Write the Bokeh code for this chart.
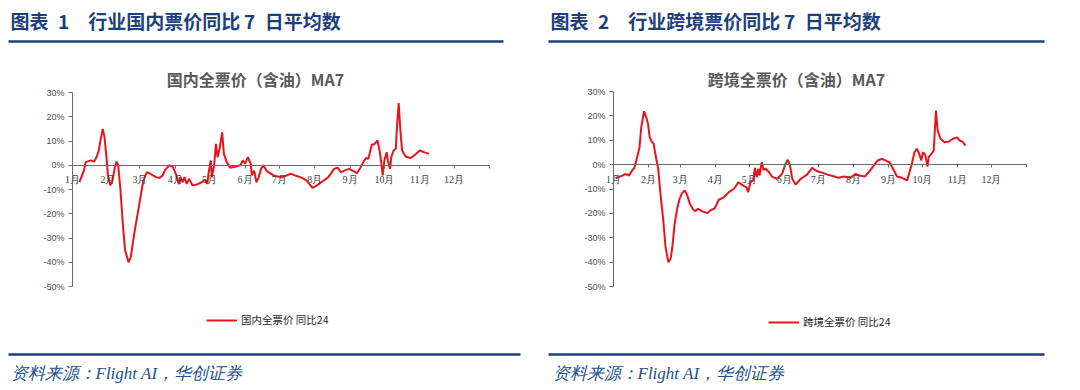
from bokeh.plotting import figure
from bokeh.models import (Range1d, FixedTicker, PrintfTickFormatter,
                          Legend, LegendItem)
from bokeh.layouts import row
from bokeh.embed import file_html
from bokeh.resources import INLINE
from bokeh.core.properties import value

# ---------------- data ----------------
MONTH_LABELS = ["1月", "2月", "3月", "4月", "5月", "6月",
                "7月", "8月", "9月", "10月", "11月", "12月"]
MONTH_START_DAYS = [0, 31, 59, 90, 120, 151, 181, 212, 243, 273, 304, 334]
YEAR_END_DAY = 365
Y_TICKS = [-50, -40, -30, -20, -10, 0, 10, 20, 30]

# 国内全票价 同比24 (MA7, %), x = day of year
DOM_DAY = [6, 10, 11.5, 16, 19, 21, 23, 24.5, 26.5, 28,
           30, 31, 33, 35, 37, 38.5, 40, 42, 44, 46,
           49, 51, 54, 58, 62, 65, 68, 73, 76, 79,
           81, 85, 88, 91, 93, 94.5, 96.5, 98, 100, 102,
           105, 109, 113, 116, 118, 119, 121, 122, 124, 125.5,
           127, 129, 131, 132.5, 135, 138, 143, 147, 149, 151,
           153.5, 156, 157, 159, 161, 163, 165, 167, 170, 176,
           182, 186, 191, 195, 201, 205, 210, 214, 219, 224,
           229, 232, 235, 238, 242, 246, 249, 252, 255, 257,
           259, 262, 264, 267, 269, 270, 271.5, 273, 275, 276,
           278, 279, 281, 283, 284, 285.5, 287, 288.5, 291.5, 296,
           299, 304, 307.5, 312]
DOM_YOY = [-7, -2.2, 1.3, 2, 1.5, 3.3, 6, 10.2, 15, 11.6,
           2, -4.2, -8.3, -6.3, -1, 1.5, 0, -10.4, -24, -35,
           -40, -37.9, -28.3, -17.3, -6.3, -2.9, -3.5, -4.9, -5.2, -4.2,
           -1.9, 0, -0.8, -4.2, -7.7, -4.9, -7, -4.9, -7.7, -5.6,
           -8.3, -7.9, -7, -6, -7.7, -3.5, 2, -4.9, 0, 8.8,
           3.3, 7.4, 13.6, 4.7, 1.3, -1, -0.5, 0, 2, 0.6,
           3.3, 0.6, -4.2, -2.2, -7, -4.9, -1.5, 0, -2.4, -4.2,
           -4.9, -4.5, -3.5, -4.2, -5.2, -6.3, -9.3, -8.3, -6.6, -4.9,
           -1.5, -1, -2.9, -2.2, -1.5, -2.4, -3.3, -1, 1.7, 3,
           2.7, 8.6, 8.6, 10.2, 5.4, 2, -4.2, 2, 5.4, 2,
           -1.5, 3.3, 6.1, 6.8, 15.7, 25.6, 14.3, 6.1, 3.6, 3,
           4, 6.1, 5.4, 4.7]

# 跨境全票价 同比24 (MA7, %)
CRS_DAY = [2, 8, 10.5, 13.5, 16.5, 18.5, 20.5, 23, 24.5, 27,
           29, 30.5, 32, 33.5, 35.5, 37.5, 39.5, 41.5, 44, 46,
           48.5, 50.5, 52, 54, 56.5, 58.5, 60.5, 63, 65, 67.5,
           70.5, 72.5, 74.5, 78.5, 83, 85.5, 89.5, 93, 97.5, 102,
           106.5, 110.5, 114.5, 117.5, 119, 121, 123.5, 125, 126.5, 128,
           129, 131, 132.5, 134.5, 137.5, 140, 144.5, 149, 152, 154,
           156, 158, 161, 165.5, 171, 175.5, 178.5, 183, 189, 194.5,
           199, 203.5, 209.5, 214, 217.5, 222, 225.5, 230, 233.5, 237.5,
           241.5, 244, 247, 250.5, 255, 259.5, 262, 264, 266, 268,
           270, 272, 273.5, 275.5, 277.5, 278.5, 281.5, 283, 284, 285,
           286.5, 289, 292.5, 296.5, 300, 303.5, 306, 309, 311]
CRS_YOY = [-5.5, -4.5, -3.8, -4.5, -2.4, -1.3, 2.4, 7.1, 15.3, 21.9,
           19.4, 16.7, 11.2, 9.6, 8.5, 3, -1.7, -12, -22.9, -33.9,
           -40, -38.6, -33.9, -24.3, -17.5, -14, -11.7, -10.6, -12.3, -16.1,
           -18.5, -19.1, -18.1, -19.2, -19.9, -18.8, -17.9, -14.4, -13.4, -11.3,
           -9.9, -7.2, -8.6, -9.3, -11.3, -7.2, -6.5, -1.3, -5.2, -1.7,
           -4.5, 1, -2.1, -1.7, -3.1, -4.9, -5.8, -3.8, 0.3, 2,
           -0.4, -5.8, -8.2, -5.8, -4.1, -1.3, -2.4, -3.1, -4.1, -4.8,
           -5.4, -4.9, -5.4, -3.8, -4.5, -4.9, -3.1, -0.4, 1.7, 2.4,
           1.4, 1, -1.7, -4.9, -5.4, -6.5, -2.4, 1, 5.1, 6.5,
           4.7, 1.7, 5.1, 4.1, -0.8, 3, 4.7, 5.8, 14, 22.2,
           14, 10.6, 9.2, 9.5, 10.6, 11.2, 9.9, 9.2, 7.8]

HEADERS = ["图表\u20021\u3000行业国内票价同比\u20097\u2002日平均数",
           "图表\u20022\u3000行业跨境票价同比\u20097\u2002日平均数"]
CHART_TITLES = ["国内全票价（含油）MA7", "跨境全票价（含油）MA7"]
LEGEND_LABELS = ["国内全票价 同比24", "跨境全票价 同比24"]
SOURCE_TEXT = "资料来源：Flight AI，华创证券"

# ---------------- style / layout ----------------
NAVY = "#1d3f7c"
BLUE_TXT = "#22508f"
RED = "#e8141c"
GREY = "#595959"
AXIS = "#6b6b6b"
CJK = "Noto Sans CJK SC"
PANEL_W, PANEL_H = 540, 390
Y_MIN, Y_MAX = -50, 30


def panel(i, days, vals, cfg):
    # plot box of the chart, in panel pixels (from top-left)
    x0, x1, yt, yb = cfg["box"]
    sxd = (x1 - x0) / YEAR_END_DAY
    syd = (yb - yt) / (Y_MAX - Y_MIN)
    xr = Range1d(-x0 / sxd, (PANEL_W - x0) / sxd)
    yr = Range1d(Y_MIN - (PANEL_H - yb) / syd, Y_MAX + yt / syd)

    p = figure(width=PANEL_W, height=PANEL_H, x_range=xr, y_range=yr,
               toolbar_location=None, output_backend="svg", min_border=0,
               outline_line_color=None)
    p.grid.visible = False
    # pixel ranges for page furniture (header, rules, footer)
    p.extra_x_ranges = {"px": Range1d(0, PANEL_W)}
    p.extra_y_ranges = {"px": Range1d(PANEL_H, 0)}

    # y axis
    ya = p.yaxis[0]
    ya.fixed_location = 0
    ya.bounds = (Y_MIN, Y_MAX)
    ya.ticker = FixedTicker(ticks=Y_TICKS)
    ya.formatter = PrintfTickFormatter(format="%d%%")
    ya.major_label_text_font = "Liberation Sans"
    ya.major_label_text_font_size = "9px"
    ya.major_label_text_color = "#4d4d4d"
    ya.major_label_standoff = 4
    ya.axis_line_color = AXIS
    ya.major_tick_line_color = AXIS
    ya.major_tick_out = 4
    ya.major_tick_in = 0
    ya.minor_tick_out = 0
    ya.minor_tick_in = 0

    # x axis crossing at 0
    xa = p.xaxis[0]
    xa.fixed_location = 0
    xa.bounds = (0, YEAR_END_DAY)
    xa.ticker = FixedTicker(ticks=MONTH_START_DAYS + [YEAR_END_DAY])
    overrides = {d: lab for d, lab in zip(MONTH_START_DAYS, MONTH_LABELS)}
    overrides[YEAR_END_DAY] = ""
    xa.major_label_overrides = overrides
    xa.major_label_text_font = "Liberation Serif"
    xa.major_label_text_font_size = "10px"
    xa.major_label_text_color = "#404040"
    xa.major_label_standoff = 6
    xa.axis_line_color = AXIS
    xa.major_tick_line_color = AXIS
    xa.major_tick_out = 3
    xa.major_tick_in = 0
    xa.minor_tick_out = 0
    xa.minor_tick_in = 0

    line = p.line(days, vals, line_color=RED, line_width=2)

    # header
    p.text(x=[cfg["head_x"]], y=[20], text=[HEADERS[i]],
           x_range_name="px", y_range_name="px",
           text_font=value(CJK), text_font_style="bold", text_font_size="19px",
           text_color=NAVY, text_baseline="middle", text_align="left")
    p.segment(x0=[cfg["head_rule"][0]], x1=[cfg["head_rule"][1]], y0=[41], y1=[41],
              x_range_name="px", y_range_name="px", line_color=NAVY, line_width=2.5)
    p.text(x=[cfg["title_x"]], y=[78], text=[CHART_TITLES[i]],
           x_range_name="px", y_range_name="px",
           text_font=value(CJK), text_font_style="bold", text_font_size="16px",
           text_color=GREY, text_baseline="middle", text_align="center")

    # legend (location: bottom-left corner, pixels from the panel's bottom-left)
    leg = Legend(items=[LegendItem(label=LEGEND_LABELS[i], renderers=[line])],
                 location=(cfg["leg_x"], PANEL_H - cfg["leg_y"] - 6),
                 glyph_width=31, glyph_height=12, label_height=12,
                 label_standoff=4, padding=0, margin=0, spacing=0,
                 border_line_color=None, background_fill_alpha=0,
                 label_text_font=CJK, label_text_font_size="10.5px",
                 label_text_color="#262626")
    p.add_layout(leg)

    # footer
    p.segment(x0=[cfg["foot_rule"][0]], x1=[cfg["foot_rule"][1]], y0=[354], y1=[354],
              x_range_name="px", y_range_name="px", line_color=NAVY, line_width=2.5)
    p.text(x=[cfg["src_x"]], y=[373], text=[SOURCE_TEXT],
           x_range_name="px", y_range_name="px",
           text_font=value("Liberation Serif"), text_font_style="italic",
           text_font_size="17px", text_color=BLUE_TXT,
           text_baseline="middle", text_align="left")
    return p


left_cfg = dict(box=(72, 489, 92, 286), head_x=10, head_rule=(8, 503),
                title_x=255, leg_x=206, leg_y=321, foot_rule=(8, 520), src_x=10)
right_cfg = dict(box=(73, 486, 91, 286), head_x=10, head_rule=(8, 504),
                 title_x=256, leg_x=228, leg_y=323, foot_rule=(8, 504), src_x=12)

layout = row(panel(0, DOM_DAY, DOM_YOY, left_cfg),
             panel(1, CRS_DAY, CRS_YOY, right_cfg), spacing=0)

open("out.html", "w").write(file_html(layout, INLINE))
